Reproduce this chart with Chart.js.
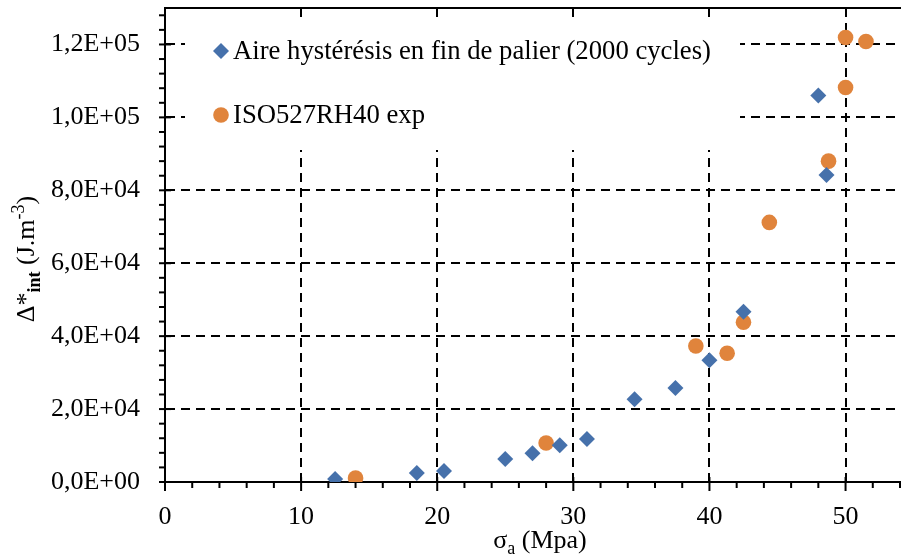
<!DOCTYPE html>
<html>
<head>
<meta charset="utf-8">
<script src="https://cdn.jsdelivr.net/npm/chart.js@4.4.1/dist/chart.umd.min.js"></script>
<style>
  html, body { margin: 0; background: #fff; overflow: hidden; }
  /* 7px de plus : Chart.js réserve la place du rayon des points à droite */
  #wrap { width: 908px; height: 559px; }
</style>
</head>
<body>
<div id="wrap"><canvas id="c"></canvas></div>
<script>
// données
const aireX = [12.5, 18.5, 20.5, 25.0, 27.0, 29.0, 31.0, 34.5, 37.5, 40.0, 42.5, 48.0, 48.6];
const aireY = [800, 2500, 3000, 6300, 7900, 10100, 11800, 22700, 25800, 33400, 46700, 106000, 84200];
const isoX = [14.0, 28.0, 39.0, 41.3, 42.5, 44.4, 48.75, 50.0, 50.0, 51.5];
const isoY = [1100, 10700, 37300, 35300, 43800, 71200, 88000, 108200, 121900, 120800];

const xTicks = [0, 10, 20, 30, 40, 50];
const yTicks = [0, 20000, 40000, 60000, 80000, 100000, 120000];

const labelAire = 'Aire hystérésis en fin de palier (2000 cycles)';
const labelIso = 'ISO527RH40 exp';

const BLUE = '#4671ab';
const ORANGE = '#e0843c';
const FONT = "'Liberation Serif', 'Times New Roman', serif";

function sci(v) {
    if (v === 0) return '0,0E+00';
    const e = Math.floor(Math.log10(v));
    const m = v / Math.pow(10, e);
    return m.toFixed(1).replace('.', ',') + 'E+' + String(e).padStart(2, '0');
}

function toPts(xs, ys) {
    return xs.map((x, i) => ({ x: x, y: ys[i] }));
}

function diamond(ctx, x, y, r) {
    ctx.beginPath();
    ctx.moveTo(x, y - r);
    ctx.lineTo(x + r, y);
    ctx.lineTo(x, y + r);
    ctx.lineTo(x - r, y);
    ctx.closePath();
    ctx.fill();
}

function noPad(s) {
    s.paddingTop = 0; s.paddingBottom = 0;
    s.paddingLeft = 0; s.paddingRight = 0;
}

// ticks, cadre du haut, légende et titres des axes
const decor = {
    id: 'decor',
    beforeDatasetsDraw(chart) {
        const ctx = chart.ctx;
        const a = chart.chartArea;
        const xs = chart.scales.x, ys = chart.scales.y;
        ctx.save();
        // cadre haut
        ctx.strokeStyle = '#000';
        ctx.lineWidth = 2;
        ctx.beginPath();
        ctx.moveTo(a.left - 1, a.top);
        ctx.lineTo(a.right + 2, a.top);
        ctx.stroke();
        // graduations
        for (let v = 0; v <= 54; v += 2) {
            const px = xs.getPixelForValue(v);
            const major = v % 10 === 0;
            ctx.beginPath();
            ctx.moveTo(px, a.bottom - (major ? 5 : 0));
            ctx.lineTo(px, a.bottom + (major ? 9 : 6));
            ctx.stroke();
        }
        for (let v = 0; v <= 128000; v += 4000) {
            const py = ys.getPixelForValue(v);
            const major = v % 20000 === 0;
            ctx.beginPath();
            ctx.moveTo(a.left - 6, py);
            ctx.lineTo(a.left + (major ? 6 : 0), py);
            ctx.stroke();
        }
        // légende
        ctx.fillStyle = '#fff';
        ctx.fillRect(185, 17, 555, 133);
        ctx.fillStyle = BLUE;
        diamond(ctx, 221, 51, 8);
        ctx.fillStyle = ORANGE;
        ctx.beginPath();
        ctx.arc(221, 115, 7.8, 0, Math.PI * 2);
        ctx.fill();
        ctx.fillStyle = '#000';
        ctx.font = '26.7px ' + FONT;
        ctx.textBaseline = 'alphabetic';
        ctx.textAlign = 'left';
        ctx.fillText(labelAire, 233, 59);
        ctx.fillText(labelIso, 233, 123);
        ctx.restore();
    },
    afterDraw(chart) {
        const ctx = chart.ctx;
        ctx.save();
        ctx.fillStyle = '#000';
        ctx.textBaseline = 'alphabetic';
        ctx.textAlign = 'left';
        // titre x : σa (Mpa)
        const big = '26px ' + FONT, small = '18px ' + FONT;
        ctx.font = big;
        const w1 = ctx.measureText('σ').width;
        const w3 = ctx.measureText(' (Mpa)').width;
        ctx.font = small;
        const w2 = ctx.measureText('a').width;
        let x = 540 - (w1 + w2 + w3) / 2;
        const base = 548;
        ctx.font = big; ctx.fillText('σ', x, base); x += w1;
        ctx.font = small; ctx.fillText('a', x, base + 6); x += w2;
        ctx.font = big; ctx.fillText(' (Mpa)', x, base);
        // titre y : Δ*int (J.m-3)
        ctx.translate(34, 259);
        ctx.rotate(-Math.PI / 2);
        const parts = [
            { t: 'Δ*', f: big, dy: 0 },
            { t: 'int', f: 'bold 18px ' + FONT, dy: 6 },
            { t: ' (J.m', f: big, dy: 0 },
            { t: '-3', f: small, dy: -10 },
            { t: ')', f: big, dy: 0 }
        ];
        let total = 0;
        parts.forEach(p => { ctx.font = p.f; p.w = ctx.measureText(p.t).width; total += p.w; });
        let px = -total / 2;
        parts.forEach(p => { ctx.font = p.f; ctx.fillText(p.t, px, p.dy); px += p.w; });
        ctx.restore();
    }
};

const gridOpts = {
    color: ctx => ctx.tick && ctx.tick.value === 0 ? 'rgba(0,0,0,0)' : '#000',
    lineWidth: 2,
    drawTicks: false
};

new Chart(document.getElementById('c'), {
    type: 'scatter',
    data: {
        datasets: [{
            label: labelAire,
            data: toPts(aireX, aireY),
            pointStyle: 'rectRot',
            pointRadius: 8,
            pointHoverRadius: 8,
            backgroundColor: BLUE,
            borderColor: BLUE,
            borderWidth: 0
        }, {
            label: labelIso,
            data: toPts(isoX, isoY),
            pointStyle: 'circle',
            pointRadius: 7.8,
            pointHoverRadius: 7.8,
            backgroundColor: ORANGE,
            borderColor: ORANGE,
            borderWidth: 0
        }]
    },
    options: {
        responsive: true,
        maintainAspectRatio: false,
        animation: false,
        layout: { padding: { top: 8, right: 1, left: 0, bottom: 0 } },
        plugins: { legend: { display: false }, tooltip: { enabled: false } },
        scales: {
            x: {
                type: 'linear',
                min: 0,
                max: 54,
                afterBuildTicks: s => { s.ticks = xTicks.map(v => ({ value: v })); },
                afterFit: s => { s.height = 77; noPad(s); },
                grid: gridOpts,
                border: { display: true, color: '#000', width: 2, dash: [9, 6] },
                ticks: {
                    color: '#000',
                    font: { family: FONT, size: 26 },
                    padding: 20,
                    maxRotation: 0
                }
            },
            y: {
                type: 'linear',
                min: 0,
                max: 130000,
                afterBuildTicks: s => { s.ticks = yTicks.map(v => ({ value: v })); },
                afterFit: s => { s.width = 165; noPad(s); },
                grid: gridOpts,
                border: { display: true, color: '#000', width: 2, dash: [9, 6] },
                ticks: {
                    color: '#000',
                    font: { family: FONT, size: 26 },
                    padding: 25,
                    callback: v => sci(v)
                }
            }
        }
    },
    plugins: [decor]
});
</script>
</body>
</html>
